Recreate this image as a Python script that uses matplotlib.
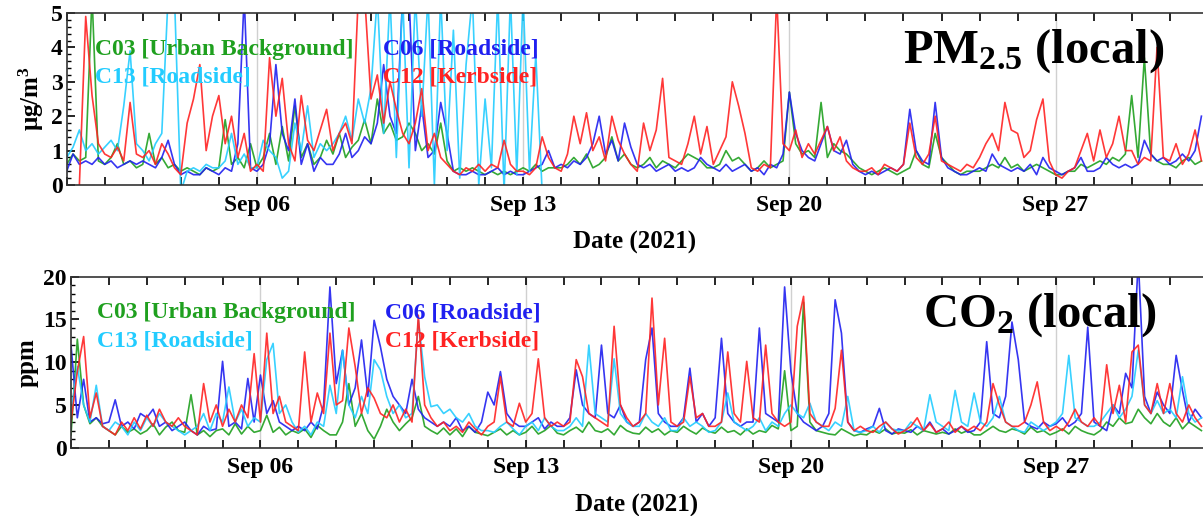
import matplotlib
matplotlib.use("Agg")
import matplotlib.pyplot as plt
import matplotlib.dates as mdates
from matplotlib.ticker import MultipleLocator
import numpy as np
import pandas as pd

nan = np.nan

# 4-hourly values, one row per day (00,04,08,12,16,20 h), Sep 01 .. Sep 30 2021
pm_c03 = [
    0.6, 0.9, 0.7, 0.8, 5.5, 0.7,
    0.6, 0.8, 1.2, 0.6, 0.7, 0.5,
    0.6, 1.5, 0.6, 0.8, 0.5, 0.6,
    0.4, 0.5, 0.4, 0.3, 0.5, 0.4,
    0.5, 1.9, 0.6, 0.8, 0.5, 1.2,
    0.5, 0.8, 1.5, 0.6, 1.7, 0.7,
    2.3, 0.8, 1.2, 0.6, 0.8, 1.3,
    0.9, 1.5, 0.8, 1.1, 1.3, 1.9,
    1.2, 2.5, 1.5, 1.8, 1.3, 1.4,
    1.8, 1.5, 1.0, 1.2, 0.9, 1.8,
    0.7, 0.4, 0.5, 0.4, 0.5, 0.4,
    0.3, 0.4, 0.3, 0.4, 0.3, 0.4,
    0.5, 0.4, 0.6, 0.4, 0.5, 0.5,
    0.5, 0.6, 0.8, 0.6, 0.9, 0.5,
    0.6, 0.8, 1.4, 0.7, 0.9, 0.6,
    0.5, 0.6, 0.8, 0.5, 0.7, 0.6,
    0.5, 0.7, 0.9, 0.8, 0.7, 0.5,
    0.5, 0.6, 1.0, 0.7, 0.8, 0.6,
    0.4, 0.5, 0.7, 0.5, 0.6, 0.7,
    2.7, 1.2, 0.9, 1.0, 0.8, 2.4,
    0.8, 1.2, 1.0, 0.9, 0.7, 0.5,
    0.4, 0.3, 0.4, 0.5, 0.4, 0.3,
    0.4, 0.5, 1.0, 0.6, 0.5, 1.5,
    0.8, 0.6, 0.4, 0.3, 0.4, 0.4,
    0.4, 0.5, 0.6, 0.5, 0.8, 0.5,
    0.6, 0.4, 0.5, 0.6, 0.5, 0.4,
    0.3, 0.3, 0.4, 0.4, 0.6, 0.5,
    0.6, 0.7, 0.6, 0.8, 0.7, 0.9,
    2.6, 0.8, 3.7, 0.9, 0.7, 0.6,
    0.6, 0.5, 0.7, 0.8, 0.6, 0.7,
]
pm_c06 = [
    0.4, 0.9, 0.6, 0.7, 0.6, 0.8,
    0.6, 0.7, 0.5, 0.6, 0.7, 0.6,
    0.7, 0.6, 0.5, 0.8, 1.3, 0.6,
    0.3, 0.4, 0.3, 0.3, 0.5, 0.4,
    0.3, 0.5, 0.4, 1.2, 5.5, 0.5,
    0.4, 0.6, 1.2, 3.5, 1.5, 1.0,
    2.5, 0.6, 1.2, 0.4, 0.8, 0.6,
    0.6, 0.9, 1.5, 0.8, 1.0, 1.4,
    1.2, 1.8, 3.5, 2.0, 1.5, 5.5,
    5.5, 1.0, 2.3, 0.8, 1.0, 2.4,
    1.5, 0.4, 0.3, 0.3, 0.4, 0.3,
    0.3, 0.4, 0.5, 0.3, 0.4, 0.3,
    0.3, 0.4, 0.5, 0.6, 1.0, 0.5,
    0.6, 0.5, 0.7, 0.6, 0.8, 1.2,
    2.0, 0.9, 1.3, 0.7, 1.8, 1.1,
    0.6, 0.5, 0.6, 0.4, 0.5, 0.6,
    0.4, 0.5, 0.4, 0.5, 0.8, 0.6,
    0.5, 0.4, 0.6, 0.4, 0.5, 0.6,
    0.4, 0.5, 0.3, 0.6, 0.5, 0.9,
    2.7, 1.5, 1.0, 0.8, 0.7, 1.2,
    1.7, 1.0, 0.9, 1.3, 0.6, 0.4,
    0.3, 0.4, 0.3, 0.4, 0.5, 0.4,
    0.6, 2.2, 1.0, 0.7, 0.6, 2.4,
    0.8, 0.5, 0.4, 0.3, 0.3, 0.4,
    0.5, 0.4, 0.9, 0.6, 0.5, 0.4,
    0.5, 0.4, 0.6, 0.3, 0.8, 0.5,
    0.4, 0.3, 0.4, 0.5, 0.8, 0.4,
    0.4, 0.5, 0.8, 0.6, 0.5, 0.6,
    0.5, 0.6, 1.3, 0.9, 0.7, 0.8,
    0.6, 0.7, 0.9, 0.7, 1.0, 2.0,
]
pm_c13 = [
    0.8, 1.1, 1.6, 1.0, 1.2, 0.9,
    1.1, 1.3, 1.0, 2.3, 3.9, 1.2,
    1.0, 0.7, 1.2, 1.5, 5.5, 5.5,
    -0.2, 0.4, 0.5, 0.4, 0.6, 0.5,
    0.5, 0.7, 1.5, 0.6, 0.9, 0.5,
    0.5, 1.3, 1.0, 0.8, 0.2, 0.4,
    1.8, 1.0, 2.3, 0.8, 1.2, 1.0,
    1.2, 1.5, 2.0, 1.3, 2.5, 1.8,
    2.8, 5.5, 1.5, 5.5, 0.8, 5.5,
    0.5, 5.5, 2.0, 5.5, 0.0, 5.5,
    1.0, 4.5, 0.2, 3.5, 5.5, 0.0,
    2.5, 0.5, 5.5, -0.2, 5.5, 0.3,
    5.5, 0.4, 3.8, -0.2, nan, nan,
] + [nan] * 102
pm_c12 = [
    nan, nan, 0.0, 4.9, 2.6, 1.2,
    0.9, 0.8, 1.1, 0.7, 2.4, 0.9,
    0.8, 1.0, 0.6, 1.2, 0.9, 0.5,
    0.3, 1.8, 2.5, 3.5, 1.0, 2.0,
    2.6, 1.2, 2.0, 0.8, 1.5, 0.4,
    0.6, 0.4, 3.7, 2.0, 3.1, 1.2,
    0.7, 2.6, 1.3, 1.0, 1.6, 2.2,
    1.0, 1.5, 1.8, 1.2, 5.5, 5.5,
    2.5, 3.2, 1.8, 3.0, 2.2, 1.5,
    1.2, 1.8, 2.8, 1.0, 1.5, 0.8,
    0.6, 0.4, 0.3, 0.5, 0.4, 0.6,
    0.4, 0.6, 0.5, 1.3, 0.6, 0.4,
    0.4, 0.3, 0.5, 1.4, 0.8, 0.5,
    0.4, 0.9, 2.0, 1.2, 2.1, 1.0,
    1.4, 0.7, 2.0, 1.3, 0.9, 0.6,
    0.4, 1.8, 1.0, 1.6, 3.1, 0.8,
    0.7, 0.6, 1.2, 2.0, 0.9, 1.7,
    0.6, 1.0, 1.4, 3.0, 2.3, 1.5,
    0.5, 0.4, 0.6, 0.5, 5.5, 1.2,
    1.0, 1.6, 0.8, 1.2, 0.9, 1.3,
    1.7, 1.0, 1.4, 0.7, 0.5, 0.4,
    0.4, 0.5, 0.3, 0.6, 0.5, 0.4,
    0.6, 1.8, 0.8, 0.6, 0.9, 2.0,
    0.7, 0.6, 0.5, 0.4, 0.6, 0.5,
    0.8, 1.2, 1.5, 1.0, 2.4, 1.6,
    1.5, 0.8, 1.0, 1.9, 2.5, 0.7,
    0.3, 0.2, 0.4, 0.5, 1.0, 1.5,
    0.7, 1.6, 0.8, 1.2, 2.0, 1.0,
    1.0, 0.6, 0.8, 0.7, 4.0, 0.8,
    0.7, 1.2, 0.6, 0.9, 1.6, 0.7,
]

co2_c03 = [
    1.5, 12.7, 5.0, 2.8, 3.5, 2.5,
    2.0, 1.5, 2.5, 1.8, 2.2, 1.6,
    2.0, 2.8, 1.5, 2.4, 3.0, 2.0,
    1.8, 6.2, 1.5, 2.0, 1.3, 2.0,
    2.2, 1.5, 2.8, 1.6, 2.5, 1.8,
    2.0, 3.8, 1.8, 2.4, 1.5, 2.0,
    1.7, 2.2, 1.2, 2.6, 2.0, 1.5,
    1.5, 3.0, 7.5, 2.5, 4.0, 2.0,
    1.0, 2.5, 4.5, 3.0, 2.0, 2.8,
    3.5, 6.0, 2.5, 2.0, 1.6, 2.3,
    1.5, 2.2, 1.3, 2.5, 1.8, 1.6,
    1.4, 1.8, 2.2, 1.5, 2.0, 1.5,
    1.8, 2.5, 1.6, 2.0, 2.6, 1.7,
    1.5, 2.0, 2.4, 1.8, 3.0, 2.0,
    1.8, 2.2, 1.5, 2.6, 2.0, 1.7,
    1.6, 2.4, 1.8, 2.2, 1.5, 2.0,
    1.8, 2.5, 2.0, 1.6, 2.3, 1.9,
    1.7, 2.4, 1.8, 2.0, 1.5, 2.2,
    1.6, 2.0, 1.8, 2.6, 2.2, 9.0,
    2.0, 2.5, 17.0, 3.0, 2.0, 1.8,
    1.6, 1.5, 2.2, 1.8, 1.4, 1.6,
    1.5, 2.0, 1.7, 2.2, 1.6, 1.8,
    1.7, 2.1, 1.5, 2.0, 1.8, 1.6,
    1.8, 1.6, 2.2, 1.7, 2.0, 1.5,
    1.5, 2.0, 2.5, 2.0, 1.8, 2.2,
    2.0, 1.6, 2.4, 1.8, 2.0, 1.5,
    1.8, 2.2, 1.6, 2.5, 2.0, 1.7,
    1.5, 2.0, 3.0, 2.5, 3.5, 2.8,
    3.0, 4.5, 3.5, 2.8, 4.0, 3.0,
    2.5, 3.5, 2.2, 3.0, 2.5, 2.0,
]
co2_c06 = [
    12.0, 3.5, 8.0, 3.0, 3.5, 2.8,
    3.0, 5.6, 2.5, 3.0, 2.2, 4.0,
    3.5, 4.5, 2.5, 3.0, 2.0, 2.5,
    3.0, 2.0, 1.5, 2.5, 2.0, 2.2,
    10.1, 2.5, 3.0, 2.2, 8.1, 3.0,
    8.5, 4.0, 5.5, 3.0, 2.5, 2.0,
    2.5, 2.0, 3.0, 2.2, 5.0, 18.8,
    7.5, 11.4, 5.0, 7.0, 12.6, 6.0,
    14.9, 11.8, 8.0, 6.0, 5.0, 4.0,
    8.0, 4.5, 3.5, 3.0, 2.5, 3.0,
    2.5, 3.5, 2.0, 2.5, 1.8, 3.0,
    6.5, 5.0, 8.9, 4.0, 3.0, 2.5,
    2.5, 3.0, 3.5, 2.2, 3.0, 2.5,
    2.5, 3.5, 9.1, 5.0, 4.0, 3.5,
    12.0, 4.0, 3.5, 5.0, 3.0, 2.5,
    3.0, 10.3, 14.0, 4.0, 3.0, 2.5,
    2.5, 3.5, 9.3, 3.0, 4.0, 2.5,
    3.5, 12.8, 4.0, 3.0, 2.5, 3.0,
    3.0, 14.0, 4.0, 3.5, 3.0, 18.8,
    8.9, 4.0, 3.0, 2.5, 2.0, 2.5,
    4.0, 17.3, 13.4, 3.0, 2.0, 1.8,
    2.2, 2.5, 4.6, 2.0, 1.6, 2.2,
    2.0, 1.8, 2.5, 2.0, 3.0, 1.8,
    2.2, 1.6, 2.0, 2.5, 1.8, 2.0,
    3.0, 12.4, 4.0, 3.5, 6.0, 14.7,
    10.3, 3.0, 2.5, 2.2, 3.0, 2.5,
    2.8, 3.5, 2.5, 3.0, 4.0, 14.1,
    3.0, 2.5, 2.0, 5.0, 4.0, 8.7,
    7.0, 22.0, 6.0, 4.0, 6.5, 5.0,
    4.0, 10.8, 6.7, 3.0, 4.5, 3.5,
]
co2_c13 = [
    4.0, 9.5, 5.0, 3.0, 7.3, 2.5,
    2.0, 3.0, 2.5, 1.5, 3.0, 2.0,
    3.5, 2.5, 4.0, 3.0, 2.5, 2.0,
    1.5, 2.0, 2.5, 4.0, 2.0, 4.0,
    3.0, 7.1, 3.0, 4.5, 2.5, 3.5,
    3.0, 10.3, 12.2, 4.0, 5.0, 3.0,
    1.8, 2.5, 1.5, 3.0, 2.5, 7.3,
    4.0, 11.4, 5.0, 3.5, 6.0, 4.0,
    10.3, 9.1, 6.0, 4.0, 5.0, 3.5,
    4.0, 14.9, 8.3, 4.8, 5.0, 4.0,
    4.5, 3.5, 3.0, 4.0, 2.5, 2.0,
    2.0, 1.8, 2.5, 3.0, 2.2, 1.5,
    2.5, 3.0, 2.0, 3.5, 2.5, 2.0,
    2.0, 2.5, 3.5, 2.5, 12.0, 4.0,
    3.5, 3.0, 10.4, 4.0, 3.0, 2.5,
    2.5, 4.0, 3.0, 2.5, 3.5, 2.0,
    2.0, 3.5, 2.5, 3.0, 2.5, 1.8,
    2.0, 3.0, 6.4, 3.0, 2.5, 2.0,
    2.5, 3.5, 2.0, 3.0, 2.5, 4.0,
    5.0, 4.0, 3.5, 5.2, 3.0, 2.5,
    2.0, 3.0, 2.5, 6.0, 2.0, 1.8,
    2.0, 2.5, 1.8, 3.0, 2.2, 2.0,
    2.0, 3.0, 2.5, 2.0, 6.2, 3.0,
    2.5, 2.0, 6.7, 3.0, 2.5, 6.4,
    3.0, 2.5, 3.5, 6.0, 3.0, 2.5,
    2.0, 1.8, 3.0, 2.5, 2.0, 2.5,
    3.0, 4.0, 10.8, 3.5, 3.0, 2.5,
    2.5, 3.0, 4.0, 5.0, 3.5, 4.5,
    6.0, 11.4, 5.0, 4.0, 5.5, 4.0,
    4.5, 3.5, 8.3, 4.0, 3.0, 3.5,
]
co2_c12 = [
    3.0, 8.9, 13.0, 3.5, 6.4, 2.5,
    2.0, 1.5, 3.0, 2.0, 3.5, 2.2,
    3.8, 2.5, 4.5, 3.0, 2.5, 3.5,
    2.5, 2.0, 1.5, 7.5, 3.0, 5.0,
    2.5, 4.5, 3.0, 5.0, 3.5, 11.0,
    3.0, 13.4, 4.0, 6.0, 3.0, 2.5,
    2.0, 11.2, 3.0, 6.4, 4.0, 13.4,
    5.0, 5.5, 14.0, 9.5, 4.0, 7.0,
    5.8, 4.0, 3.5, 5.0, 3.0, 4.5,
    3.0, 15.5, 5.0, 3.5, 2.5, 3.0,
    2.0, 2.5, 1.8, 3.0, 2.2, 1.5,
    2.5, 3.0, 8.3, 3.0, 2.5, 5.2,
    3.0, 4.0, 10.4, 3.5, 2.5, 3.0,
    2.5, 3.0, 10.3, 8.3, 4.0, 3.5,
    3.0, 2.5, 14.2, 5.0, 3.5, 2.5,
    3.0, 4.0, 17.5, 5.0, 12.8, 3.0,
    2.5, 3.0, 8.3, 3.5, 4.0, 2.5,
    2.5, 3.0, 11.2, 4.0, 3.0, 10.1,
    3.5, 3.0, 12.0, 4.0, 3.0, 2.5,
    3.0, 14.2, 17.7, 4.0, 3.0, 2.5,
    2.5, 4.6, 11.4, 3.0, 2.0, 2.5,
    2.0, 1.8, 2.5, 3.0, 2.2, 1.6,
    2.0, 2.5, 3.5, 2.0, 2.8, 1.8,
    2.2, 3.0, 1.8, 2.5, 2.0, 2.5,
    2.0, 3.0, 7.5, 5.0, 3.0, 2.5,
    2.5, 3.0, 5.0, 7.7, 3.0, 2.0,
    2.5, 2.0, 3.0, 4.5, 3.0, 2.5,
    3.5, 2.5, 9.7, 4.0, 7.3, 3.0,
    11.2, 12.0, 5.0, 4.0, 7.5, 4.0,
    7.5, 4.0, 3.0, 5.0, 3.5, 2.5,
]

sites = ["C03 [Urban Background]", "C06 [Roadside]", "C13 [Roadside]", "C12 [Kerbside]"]
colors = ["#1fa01f", "#2020f0", "#22ccff", "#ff2222"]

times = pd.date_range("2021-09-01", periods=len(pm_c03), freq="4h")

plt.rcParams["font.family"] = ["Liberation Serif", "DejaVu Serif"]
plt.rcParams["font.weight"] = "bold"
plt.rcParams["mathtext.fontset"] = "custom"
plt.rcParams["mathtext.rm"] = "Liberation Serif:bold"
plt.rcParams["mathtext.bf"] = "Liberation Serif:bold"
plt.rcParams["mathtext.default"] = "bf"

fig = plt.figure(figsize=(12.03, 5.16), dpi=100)
W, H = 1203.0, 516.0


def panel(box, series, ylim, major, minor, ylabel, title, title_xy, leg_xy):
    x0, y0, x1, y1 = box
    ax = fig.add_axes([x0 / W, 1 - y1 / H, (x1 - x0) / W, (y1 - y0) / H])
    for vals, c in zip(series, colors):
        ax.plot(times, vals, color=c, lw=1.2, alpha=0.9)
    ax.set_xlim(pd.Timestamp("2021-09-01"), pd.Timestamp("2021-09-30 21:00"))
    ax.set_ylim(*ylim)
    ax.xaxis.set_major_locator(mdates.DayLocator(bymonthday=[6, 13, 20, 27]))
    ax.xaxis.set_major_formatter(mdates.DateFormatter("%b %d"))
    ax.xaxis.set_minor_locator(mdates.DayLocator())
    ax.yaxis.set_major_locator(MultipleLocator(major))
    ax.yaxis.set_minor_locator(MultipleLocator(minor))
    ax.tick_params(axis="x", which="both", direction="in", top=True, length=6, width=1.2, labelsize=17, pad=7)
    ax.tick_params(axis="y", which="major", direction="in", length=6, width=1.2, labelsize=17, pad=3)
    ax.tick_params(axis="y", which="minor", direction="in", length=3, width=1.0)
    for lab in ax.get_xticklabels() + ax.get_yticklabels():
        lab.set_fontweight("bold")
    ax.grid(axis="x", which="major", color="#d0d0d0", lw=1.0)
    ax.spines["right"].set_visible(False)
    for s in ["left", "top", "bottom"]:
        ax.spines[s].set_linewidth(1.2)
        ax.spines[s].set_color("#333333")
    ax.set_xlabel("Date (2021)", fontsize=18, fontweight="bold", labelpad=11)
    ax.set_ylabel(ylabel, fontsize=18, fontweight="bold", labelpad=3)

    tx, ty = title_xy
    ax.text(tx / W, 1 - ty / H, title, transform=fig.transFigure, fontsize=35,
            fontweight="bold", va="baseline", ha="left")
    lx0, lx1, ly0, ly1 = leg_xy
    order = [(sites[0], colors[0], lx0, ly0), (sites[2], colors[2], lx0, ly1),
             (sites[1], colors[1], lx1, ly0), (sites[3], colors[3], lx1, ly1)]
    for name, c, lx, ly in order:
        ax.text(lx / W, 1 - ly / H, name, transform=fig.transFigure, color=c,
                fontsize=17, fontweight="bold", va="baseline", ha="left")
    return ax


panel((66.7, 13, 1203, 185), [pm_c03, pm_c06, pm_c13, pm_c12], (0, 5), 1, 0.2,
      "μg/m$^{3}$", "PM$_{2.5}$ (local)", (903, 63), (95, 383, 55, 82))
panel((71, 276.7, 1203, 447.7), [co2_c03, co2_c06, co2_c13, co2_c12], (0, 20), 5, 1,
      "ppm", "CO$_{2}$ (local)", (923, 327), (97, 385, 318, 346))

fig.savefig("out.png", dpi=100)
